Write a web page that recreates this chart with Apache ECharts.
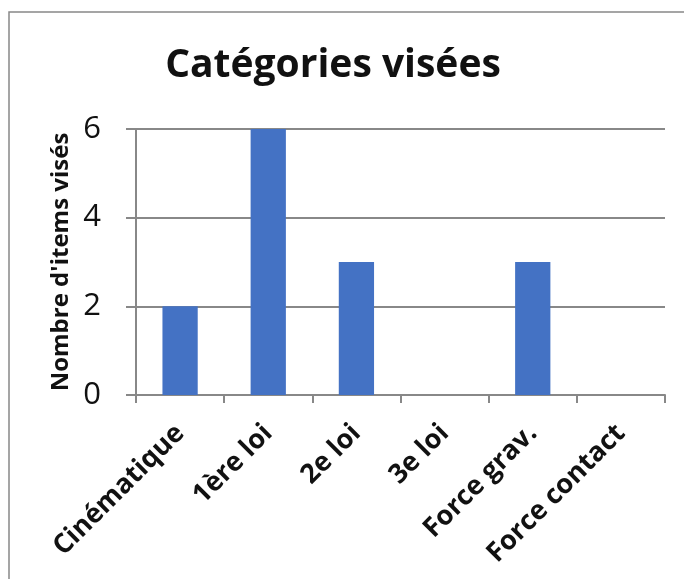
<!DOCTYPE html>
<html><head><meta charset="utf-8">
<script src="https://cdn.jsdelivr.net/npm/echarts@6/dist/echarts.min.js"></script>
<style>html,body{margin:0;padding:0;background:#fff}#c{width:684px;height:579px}</style>
</head><body><div id="c"></div>
<script>
const categories = ["Cinématique", "1ère loi", "2e loi", "3e loi", "Force grav.", "Force contact"];
const values = [2, 6, 3, 0, 3, 0];
const yTicks = [0, 2, 4, 6];

const chart = echarts.init(document.getElementById('c'));
const font = '"Open Sans", "Liberation Sans", sans-serif';
chart.setOption({
  animation: false,
  backgroundColor: '#fff',
  title: {
    text: 'Catégories visées', left: 328, top: 41, textAlign: 'center',
    textStyle: { fontFamily: font, fontWeight: 'bold', fontSize: 39, color: '#111' }
  },
  graphic: [{
    type: 'rect', shape: { x: 9, y: 12, width: 690, height: 600 },
    style: { fill: 'none', stroke: '#888', lineWidth: 1.5 }, silent: true
  }],
  grid: { left: 136, right: 19, top: 129, bottom: 184 },
  xAxis: {
    type: 'category', data: categories,
    axisLine: { lineStyle: { color: '#888', width: 2 } },
    axisTick: { show: true, length: 8, lineStyle: { color: '#888', width: 2 } },
    axisLabel: { rotate: 45, interval: 0, margin: 34, fontFamily: font, fontWeight: 'bold', fontSize: 27, color: '#111' }
  },
  yAxis: {
    type: 'value', min: yTicks[0], max: yTicks[yTicks.length - 1], interval: 2,
    name: "Nombre d'items visés", nameLocation: 'middle', nameGap: 63, nameRotate: 90,
    nameMoveOverlap: false,
    nameTextStyle: { fontFamily: font, fontWeight: 'bold', fontSize: 24, color: '#111' },
    axisLine: { show: true, lineStyle: { color: '#888', width: 2 } },
    axisTick: { show: true, length: 10, lineStyle: { color: '#888', width: 2 } },
    splitLine: { lineStyle: { color: '#888', width: 2 } },
    axisLabel: { margin: 35, fontFamily: font, fontSize: 31, color: '#111' }
  },
  series: [{
    type: 'bar', data: values, barWidth: '40%',
    itemStyle: { color: '#4472C4' }
  }]
});
</script></body></html>
